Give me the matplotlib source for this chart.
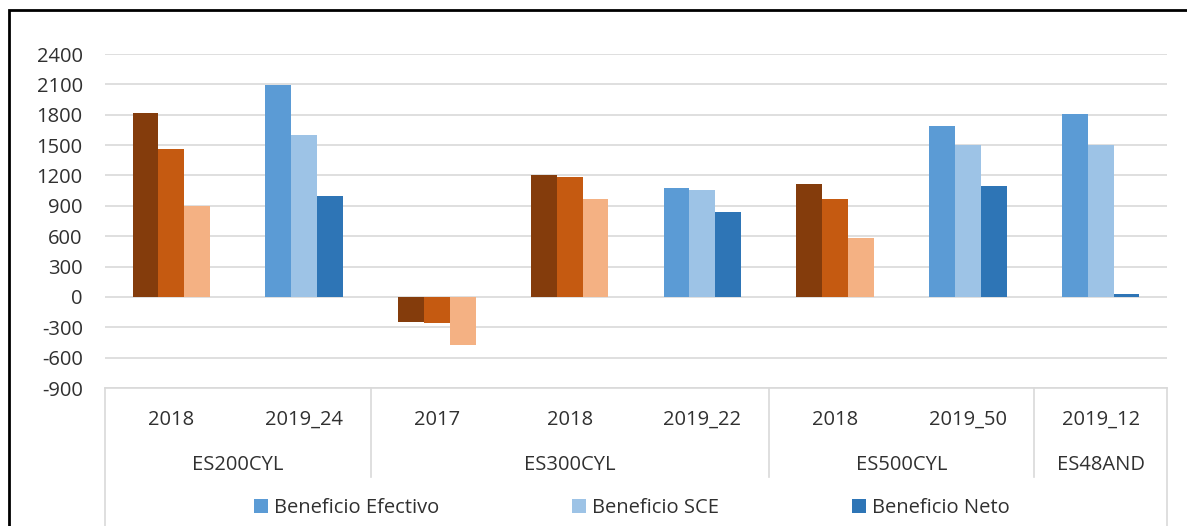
import matplotlib
matplotlib.use("Agg")
import matplotlib.pyplot as plt
from matplotlib import font_manager
from matplotlib.patches import Patch, Rectangle

available = {f.name for f in font_manager.fontManager.ttflist}
for fam in ["Liberation Sans Narrow", "Open Sans", "Lato", "DejaVu Sans"]:
    if fam in available:
        FONT = fam
        break
plt.rcParams['font.family'] = [FONT, 'DejaVu Sans']

# ---- data ----
years = ["2018", "2019_24", "2017", "2018", "2019_22", "2018", "2019_50", "2019_12"]
farms = ["ES200CYL", "ES300CYL", "ES500CYL", "ES48AND"]
farm_sizes = [2, 3, 2, 1]
efectivo = [1820, 2090, -250, 1200, 1080, 1115, 1690, 1810]
sce = [1460, 1600, -260, 1185, 1060, 970, 1500, 1500]
neto = [900, 1000, -480, 970, 840, 580, 1100, 30]
series_labels = ["Beneficio Efectivo", "Beneficio SCE", "Beneficio Neto"]
blue_colors = ["#5B9BD5", "#9DC3E6", "#2E75B6"]
brown_colors = ["#843C0C", "#C55A11", "#F4B183"]
yticks = list(range(-900, 2401, 300))

FS = 14.5
TXT = "#303030"

W, H = 1187, 526
fig = plt.figure(figsize=(W / 100, H / 100), dpi=100)
ax = fig.add_axes([105 / W, (H - 388) / H, (1167 - 105) / W, (388 - 54) / H])

bw = 0.195
series = [efectivo, sce, neto]
for i, yl in enumerate(years):
    cols = blue_colors if yl.startswith("2019") else brown_colors
    for j, s in enumerate(series):
        ax.bar(i + (j - 1) * bw, s[i], width=bw, color=cols[j], zorder=3)

ax.set_xlim(-0.5, len(years) - 0.5)
ax.set_ylim(-900, 2400)
ax.set_yticks(yticks)
ax.set_yticklabels([str(t) for t in yticks], fontsize=FS, color=TXT)
ax.tick_params(axis="y", length=0, pad=16)
ax.set_xticks([])
for sp in ax.spines.values():
    sp.set_visible(False)
ax.grid(axis="y", color="#D9D9D9", linewidth=1.2, zorder=0)

tr = ax.get_xaxis_transform()
ax.plot([-0.5, len(years) - 0.5], [0, 0], transform=tr, color="#D9D9D9", lw=1.2, clip_on=False, zorder=4)
bounds = [-0.5]
for n in farm_sizes:
    bounds.append(bounds[-1] + n)
for k, b in enumerate(bounds):
    outer = k == 0 or k == len(bounds) - 1
    ybot = -0.45 if outer else -0.266
    ax.plot([b, b], [0, ybot], transform=tr, color="#D9D9D9", lw=1.2, clip_on=False)

for i, yl in enumerate(years):
    ax.text(i, -0.096, yl, transform=tr, ha="center", va="center", fontsize=FS, color=TXT)
start = 0
for f, n in zip(farms, farm_sizes):
    ax.text(start + (n - 1) / 2, -0.23, f, transform=tr, ha="center", va="center", fontsize=FS, color=TXT)
    start += n

handles = [Patch(facecolor=c, edgecolor="none") for c in blue_colors]
fig.legend(handles, series_labels, loc="center", bbox_to_anchor=(632 / W, 1 - 508 / H),
           ncol=3, frameon=False, fontsize=FS, handlelength=0.7, handleheight=0.7,
           handletextpad=0.3, columnspacing=6.6, labelcolor=TXT)

fig.patches.append(Rectangle((9 / W, -0.01), 1.02, 1 - 10 / H + 0.01, transform=fig.transFigure,
                             fill=False, edgecolor="black", lw=2))

fig.savefig("out.png", dpi=100)
